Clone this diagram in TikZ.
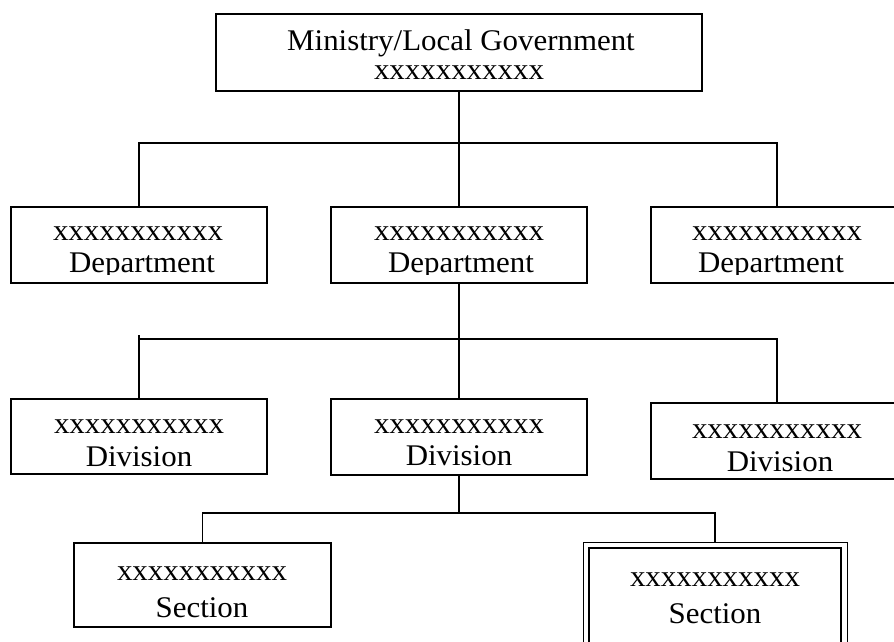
\documentclass[tikz,border=0pt]{standalone}
\usepackage{fontspec}
\setmainfont{Liberation Serif}[FakeStretch=1.03]
\newcommand\orgfont{\fontsize{30}{34}\selectfont}
\begin{document}
\begin{tikzpicture}[x=1pt,y=-1pt,
  box/.style={draw, line width=1.3pt, inner sep=0pt, outer sep=0pt, anchor=north west},
  link/.style={line width=1.1pt},
  lbl/.style={anchor=base, inner sep=0pt, outer sep=0pt, font=\orgfont}]
\clip (0,0) rectangle (894,642);
\fill[white] (0,0) rectangle (894,642);
% boxes
\node[box, minimum width=486pt, minimum height=77pt] (top) at (216,14) {};
\node[box, minimum width=256pt, minimum height=76pt] (dL) at (11,207) {};
\node[box, minimum width=256pt, minimum height=76pt] (dM) at (331,207) {};
\node[box, minimum width=252pt, minimum height=76pt] (dR) at (651,207) {};
\node[box, minimum width=256pt, minimum height=75pt] (viL) at (11,399) {};
\node[box, minimum width=256pt, minimum height=76pt] (viM) at (331,399) {};
\node[box, minimum width=252pt, minimum height=76pt] (viR) at (651,403) {};
\node[box, minimum width=257pt, minimum height=84pt] (sL) at (74,543) {};
\node[box, line width=0.9pt, minimum width=264pt, minimum height=120pt] (sR) at (583,542) {};
\node[box, line width=2.6pt, minimum width=252pt, minimum height=110pt] (sRi) at (589,548) {};
% texts
\node[lbl] (t1) at (461,51) {Ministry/Local Government};
\node[lbl] (t2) at (459,80) {xxxxxxxxxxx};
\node[lbl] (dLa) at (138,240) {xxxxxxxxxxx};
\node[lbl] (dMa) at (459,240) {xxxxxxxxxxx};
\node[lbl] (dRa) at (777,240) {xxxxxxxxxxx};
\begin{scope}
\clip (0,200) rectangle (894,274);
\node[lbl] (dLb) at (142,272) {Department};
\node[lbl] (dMb) at (461,272) {Department};
\node[lbl] (dRb) at (771,272) {Department};
\end{scope}
\node[lbl] (viLa) at (139,433) {xxxxxxxxxxx};
\node[lbl] (viLb) at (139,466) {Division};
\node[lbl] (viMa) at (459,433) {xxxxxxxxxxx};
\node[lbl] (viMb) at (459,465) {Division};
\node[lbl] (viRa) at (777,438) {xxxxxxxxxxx};
\node[lbl] (viRb) at (780,471) {Division};
\node[lbl] (sLa) at (202,580) {xxxxxxxxxxx};
\node[lbl] (sLb) at (202,617) {Section};
\node[lbl] (sRa) at (715,586) {xxxxxxxxxxx};
\node[lbl] (sRb) at (715,623) {Section};
% connectors
\coordinate (bus1) at (459,143);
\coordinate (bus2) at (459,339);
\coordinate (bus3) at (459,513);
\draw[link] (top.south) -- (dM.north);
\draw[link] (dL.north) -- (dL.north |- bus1) -- (dR.north |- bus1) -- (dR.north);
\draw[link] (dM.south) -- (viM.north);
\coordinate (stub) at (139,335);
\draw[link] (viL.north) -- (stub);
\draw[link] (viL.north |- bus2) -- (viR.north |- bus2) -- (viR.north);
\draw[link] (viM.south) -- (bus3);
\draw[link] (sL.north) -- (sL.north |- bus3) -- (sR.north |- bus3) -- (sR.north);
\end{tikzpicture}
\end{document}
